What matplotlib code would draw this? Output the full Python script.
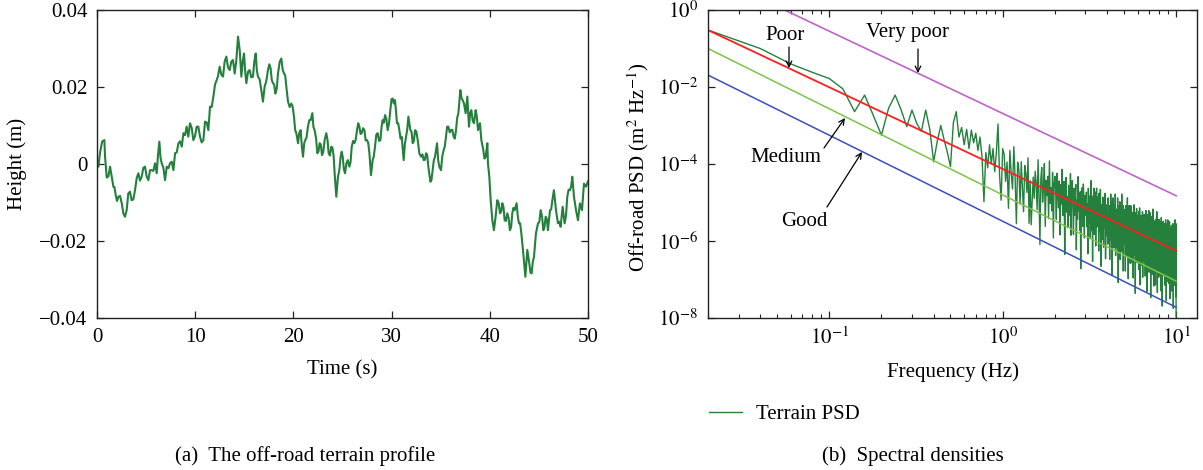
import numpy as np
import matplotlib
matplotlib.use("Agg")
import matplotlib.pyplot as plt
from matplotlib.ticker import FixedLocator, NullFormatter, LogLocator

# ---------------- data: (a) terrain profile ----------------
time_s = [
    0.0, 0.14, 0.31, 0.53, 0.75, 0.82, 0.99, 1.16, 1.33, 1.50,
    1.67, 1.78, 1.90, 2.04, 2.18, 2.35, 2.52, 2.68, 2.85, 3.02,
    3.19, 3.36, 3.53, 3.70, 3.87, 4.04, 4.21, 4.38, 4.55, 4.72,
    4.89, 5.06, 5.23, 5.40, 5.57, 5.74, 5.91, 6.08, 6.22, 6.35,
    6.47, 6.59, 6.76, 6.93, 7.10, 7.27, 7.44, 7.61, 7.78, 7.95,
    8.12, 8.29, 8.46, 8.63, 8.80, 8.97, 9.13, 9.30, 9.47, 9.64,
    9.81, 9.98, 10.15, 10.32, 10.49, 10.66, 10.83, 11.00, 11.17, 11.34,
    11.51, 11.68, 11.85, 12.02, 12.19,
    12.32, 12.49, 12.66, 12.83, 13.00, 13.17, 13.34, 13.51, 13.68, 13.85,
    14.02, 14.19, 14.36, 14.53, 14.70, 14.84, 14.97, 15.09, 15.21, 15.38,
    15.54, 15.71, 15.88, 16.02, 16.16, 16.28, 16.39, 16.56, 16.73, 16.90,
    17.07, 17.24, 17.41, 17.55, 17.68, 17.80, 17.92, 18.04, 18.16, 18.30,
    18.43, 18.60, 18.77, 18.90, 19.04, 19.16, 19.28, 19.45, 19.62, 19.79,
    19.92, 20.06, 20.18, 20.30, 20.47, 20.60, 20.74, 20.86, 20.98, 21.10,
    21.21, 21.34, 21.48, 21.62, 21.76, 21.93, 22.04, 22.16, 22.30, 22.44,
    22.56, 22.67, 22.79, 22.91, 23.04, 23.18, 23.35, 23.47, 23.59, 23.72,
    23.86, 23.98, 24.10, 24.20, 24.37, 24.54, 24.68, 24.81, 24.92,
    25.02, 25.14, 25.26, 25.40, 25.53, 25.70, 25.82, 25.94, 26.08, 26.21,
    26.34, 26.48, 26.60, 26.72, 26.84, 26.95, 27.09, 27.23, 27.36, 27.50,
    27.62, 27.74, 27.90, 28.07, 28.19, 28.31, 28.44, 28.58, 28.72, 28.86,
    28.98, 29.09, 29.21, 29.33, 29.46, 29.60, 29.74, 29.87, 29.99, 30.11,
    30.23, 30.35, 30.55, 30.67, 30.79, 30.91, 31.03, 31.23, 31.35, 31.47,
    31.59, 31.71, 31.91, 32.03, 32.15, 32.27, 32.39, 32.52, 32.66, 32.83,
    33.00, 33.14, 33.27, 33.39, 33.51, 33.62, 33.74, 33.95, 34.06, 34.18,
    34.30, 34.42, 34.63, 34.74, 34.86, 35.03, 35.16, 35.30, 35.42, 35.54,
    35.66, 35.78, 35.92, 36.05, 36.18, 36.32, 36.44, 36.56, 36.68, 36.80,
    37.00, 37.12, 37.24,
    37.37, 37.54, 37.71, 37.88, 38.00, 38.12, 38.26, 38.39, 38.56, 38.68,
    38.80, 39.00, 39.14, 39.34, 39.46, 39.58, 39.75, 39.81, 39.95, 40.09,
    40.26, 40.42, 40.59, 40.76, 40.90, 41.04, 41.16, 41.27, 41.39, 41.51,
    41.64, 41.78, 41.92, 42.05, 42.17, 42.29, 42.41, 42.53, 42.73, 42.85,
    42.97, 43.09, 43.21, 43.41, 43.62, 43.82, 44.02, 44.14, 44.26, 44.38,
    44.50, 44.70, 44.91, 45.04, 45.18, 45.32, 45.45, 45.57, 45.69, 45.80,
    45.92, 46.13, 46.25, 46.37, 46.53, 46.74, 46.94, 47.08, 47.21, 47.42,
    47.62, 47.76, 47.89, 48.02, 48.16, 48.28, 48.40, 48.57, 48.78, 48.98,
    49.18, 49.39, 49.59, 49.79, 50.0,
]
height_mm = [
    0.2, -0.7, 3.0, 5.9, 6.2, 1.9, -3.5, -3.2, -0.7, -3.3,
    -5.9, -6.0, -8.0, -9.6, -8.5, -8.3, -10.2, -12.8, -13.7, -12.0,
    -7.6, -7.2, -9.4, -9.2, -6.8, -3.7, -2.4, -4.3, -3.3, -1.0,
    -0.7, -3.3, -4.2, -1.6, -1.6, -1.8, 0.2, -2.4, 2.6, 5.8,
    1.6, 0.2, -1.0, -4.2, -0.7, -1.1, 0.2, 0.6, -1.6, 2.8,
    3.0, 5.4, 5.9, 4.5, 8.0, 7.5, 9.7, 7.1, 10.6, 9.4,
    6.2, 7.2, 9.7, 9.7, 7.1, 5.6, 6.2, 11.0, 10.8, 8.8,
    14.9, 14.8, 17.5, 20.7, 21.8,
    22.8, 25.3, 23.2, 22.7, 26.6, 27.9, 25.1, 24.4, 26.6, 27.0,
    23.5, 26.9, 33.1, 29.6, 22.7, 26.7, 28.7, 24.0, 21.0, 24.0,
    24.4, 22.5, 22.7, 26.6, 28.7, 24.3, 22.7, 22.0, 19.2, 16.2,
    20.1, 21.5, 24.4, 25.9, 24.8, 21.8, 21.0, 20.6, 18.3, 19.5,
    23.5, 26.5, 27.4, 24.6, 23.5, 23.1, 20.1, 16.2, 14.8, 15.7,
    14.9, 12.3, 8.8, 8.0, 5.4, 8.1, 8.8, 4.5, 1.9, 5.4,
    6.2, 6.9, 9.7, 11.4, 11.4, 13.2, 9.6, 8.8, 6.8, 2.8,
    3.3, 5.4, 5.1, 2.3, 3.1, 6.2, 8.0, 6.3, 2.8, 2.2,
    4.5, 4.2, 1.9, -2.4, -8.5, -3.3, -1.5, 1.9, 3.2,
    1.9, -1.4, -2.4, 0.2, 1.0, -0.7, 0.5, 4.5, 6.0, 5.4,
    6.3, 8.8, 10.6, 9.7, 7.8, 8.0, 9.3, 8.8, 6.1, 6.2,
    5.5, 2.8, -2.9, 1.0, 2.0, 4.5, 7.6, 8.0, 6.0, 6.2,
    9.7, 11.4, 10.7, 12.7, 11.8, 8.8, 10.6, 14.0, 16.8, 17.0,
    15.7, 16.6, 10.6, 10.6, 8.8, 6.6, 7.1, 1.0, 5.1, 7.1,
    8.9, 12.3, 8.8, 8.4, 5.4, 6.0, 8.8, 8.4, 6.2, 2.7,
    1.9, 2.5, 1.0, 1.1, 2.8, 2.4, -0.7, -4.6, -4.2, -1.6,
    1.0, 1.9, 5.4, 1.0, -0.7, -1.6, 2.0, 3.6, 4.6, 7.1,
    9.7, 9.7, 8.2, 8.8, 8.9, 7.1, 6.6, 8.8, 12.0, 13.2,
    19.2, 17.1, 16.6,
    15.7, 13.2, 17.5, 9.7, 13.2, 14.0, 11.2, 10.6, 14.0, 12.3,
    8.8, 10.6, 6.2, 3.6, 1.4, 1.9, 5.4, 0.2, -3.3, -9.4,
    -14.6, -17.2, -13.7, -9.4, -10.1, -12.8, -12.3, -10.2, -11.1, -14.6,
    -14.8, -12.8, -14.1, -17.2, -16.4, -12.8, -11.4, -12.0, -10.2, -13.6,
    -15.4, -15.4, -18.0, -23.2, -29.3, -22.3, -25.8, -28.2, -28.4, -25.4,
    -24.1, -18.0, -15.4, -15.1, -12.0, -13.6, -17.2, -16.3, -13.7, -14.2,
    -17.2, -12.0, -11.8, -9.4, -6.8, -12.0, -15.4, -15.0, -16.3, -11.1,
    -15.4, -13.4, -8.5, -6.7, -6.8, -5.9, -3.3, -8.5, -12.0, -14.6,
    -10.2, -12.0, -5.1, -5.9, -4.5,
]

# ---------------- data: (b) spectral densities ----------------
freq_step = 0.02          # Hz, frequency resolution of the terrain PSD
terrain_psd_log10 = [
    # 0.02 - 1.00 Hz
    -0.52, -1.00, -1.40, -1.62, -1.78, -2.05, -2.64, -2.21, -2.75, -3.25,
    -2.55, -2.21, -2.60, -3.03, -2.60, -2.95, -3.15, -2.60, -3.10, -3.94,
    -3.40, -3.00, -3.38, -3.70, -4.07, -2.92, -2.64, -3.30, -3.05, -3.50,
    -3.10, -3.60, -3.12, -3.45, -3.20, -3.65, -3.30, -3.81, -4.98, -3.70,
    -4.10, -3.50, -4.00, -3.60, -4.20, -3.70, -2.96, -4.30, -4.94, -3.60,
    # 1.02 - 1.50
    -3.75, -4.45, -3.95, -5.15, -3.65, -4.25, -4.65, -3.55, -4.35, -5.55, -3.95, -4.15,
    -5.04, -3.94, -4.64, -5.24, -4.04, -4.24, -4.74, -3.84, -5.54, -4.44, -5.58, -4.94, -4.34,
    # 1.52 - 2.00
    -4.89, -4.19, -4.49, -5.19, -3.89, -4.79, -6.09, -4.39, -4.09, -4.99, -4.59, -3.99,
    -5.62, -4.42, -4.82, -4.32, -5.42, -3.92, -5.02, -4.62, -5.22, -4.22, -5.92, -4.52, -4.32,
    # 2.02 - 2.50
    -4.64, -5.44, -4.24, -4.74, -5.14, -4.44, -5.84, -4.54, -5.04, -4.14, -5.34, -4.94,
    -4.45, -6.35, -4.75, -4.35, -5.25, -4.85, -5.65, -4.55, -4.95, -5.35, -4.25, -5.85, -4.65,
    # 2.52 - 3.00
    -4.43, -5.03, -5.83, -4.63, -5.33, -4.83, -4.53, -6.23, -4.93, -5.43, -4.33, -5.23,
    -4.82, -5.72, -4.72, -6.72, -4.92, -4.62, -5.22, -5.62, -4.52, -4.92, -5.92, -4.82, -5.32,
    # 3.02 - 3.50
    -5.33, -4.73, -5.63, -5.03, -6.33, -4.63, -5.13, -5.53, -4.83, -5.93, -4.93, -4.43, -5.73,
    -5.23, -6.53, -4.83, -5.43, -4.63, -5.83, -5.03, -4.73, -6.13, -5.13, -4.63, -5.63,
    # 3.52 - 4.00
    -4.86, -5.56, -5.06, -6.26, -4.76, -5.36, -5.76, -4.66, -5.46, -6.66, -5.06, -5.26, -5.96,
    -4.86, -5.56, -6.16, -4.96, -5.16, -5.66, -4.76, -6.46, -5.36, -5.06, -5.86, -5.26,
    # 4.02 - 4.50
    -5.28, -6.08, -4.88, -5.38, -5.78, -5.08, -6.48, -5.18, -5.68, -4.78, -5.98, -5.58, -4.98,
    -6.88, -5.28, -4.88, -5.78, -5.38, -6.18, -5.08, -5.48, -5.88, -4.78, -6.38, -5.18,
    # 4.52 - 5.00
    -5.88, -5.18, -5.48, -6.18, -4.88, -5.78, -7.08, -5.38, -5.08, -5.98, -5.58, -4.98, -6.48,
    -5.28, -5.68, -5.18, -6.28, -4.78, -5.88, -5.48, -6.08, -5.08, -6.78, -5.38, -5.18,
    # 5.02 - 5.50
    -5.78, -5.18, -6.08, -5.48, -6.78, -5.08, -5.58, -5.98, -5.28, -6.38, -5.38, -4.88, -6.18,
    -5.68, -6.98, -5.28, -5.88, -5.08, -6.28, -5.48, -5.18, -6.58, -5.58, -5.08, -6.08,
    # 5.52 - 6.00
    -5.16, -5.76, -6.56, -5.36, -6.06, -5.56, -5.26, -6.96, -5.66, -6.16, -5.06, -5.96, -5.46,
    -6.36, -5.36, -7.36, -5.56, -5.26, -5.86, -6.26, -5.16, -5.56, -6.56, -5.46, -5.96,
    # 6.02 - 6.50
    -5.34, -6.04, -5.54, -6.74, -5.24, -5.84, -6.24, -5.14, -5.94, -7.14, -5.54, -5.74, -6.44,
    -5.34, -6.04, -6.64, -5.44, -5.64, -6.14, -5.24, -6.94, -5.84, -5.54, -6.34, -5.74,
    # 6.52 - 7.00
    -5.71, -6.51, -5.31, -5.81, -6.21, -5.51, -6.91, -5.61, -6.11, -5.21, -6.41, -6.01, -5.41,
    -7.31, -5.71, -5.31, -6.21, -5.81, -6.61, -5.51, -5.91, -6.31, -5.21, -6.81, -5.61,
    # 7.02 - 7.50
    -6.27, -5.57, -5.87, -6.57, -5.27, -6.17, -7.47, -5.77, -5.47, -6.37, -5.97, -5.37, -6.87,
    -5.67, -6.07, -5.57, -6.67, -5.17, -6.27, -5.87, -6.47, -5.47, -7.17, -5.77, -5.57,
    # 7.52 - 8.00
    -6.14, -5.54, -6.44, -5.84, -7.14, -5.44, -5.94, -6.34, -5.64, -6.74, -5.74, -5.24, -6.54,
    -6.04, -7.34, -5.64, -6.24, -5.44, -6.64, -5.84, -5.54, -6.94, -5.94, -5.44, -6.44,
    # 8.02 - 8.50
    -5.49, -6.09, -6.89, -5.69, -6.39, -5.89, -5.59, -7.29, -5.99, -6.49, -5.39, -6.29, -5.79,
    -6.69, -5.69, -7.69, -5.89, -5.59, -6.19, -6.59, -5.49, -5.89, -6.89, -5.79, -6.29,
    # 8.52 - 9.00
    -5.95, -6.75, -5.55, -6.05, -6.45, -5.75, -7.15, -5.85, -6.35, -5.45, -6.65, -6.25, -5.65,
    -7.55, -5.95, -5.55, -6.45, -6.05, -6.85, -5.75, -6.15, -6.55, -5.45, -7.05, -5.85,
    # 9.02 - 9.50
    -5.70, -6.40, -5.90, -7.10, -5.60, -6.20, -6.60, -5.50, -6.30, -7.50, -5.90, -6.10, -6.80,
    -5.70, -6.40, -7.00, -5.80, -6.00, -6.50, -5.60, -7.30, -6.20, -5.90, -6.70, -6.10,
    # 9.52 - 10.00
    -6.55, -5.85, -6.15, -6.85, -5.55, -6.45, -7.75, -6.05, -5.75, -6.65, -6.25, -5.65, -7.15,
    -5.95, -6.35, -5.85, -6.95, -5.45, -6.55, -6.15, -6.75, -5.75, -7.45, -5.55, -7.97,
]
class_freq = [0.02, 10.0]
class_very_poor = [8.8, 1.5e-5]
class_poor = [0.30, 5.6e-7]
class_medium = [0.10, 9.1e-8]
class_good = [0.0204, 1.9e-8]

# ---------------- style ----------------
plt.rcParams['font.family'] = ['Liberation Serif', 'DejaVu Serif']
plt.rcParams['mathtext.fontset'] = 'stix'
FS = 15
C_TERRAIN = '#25803e'
C_POOR = '#ff1e1e'
C_MEDIUM = '#7cc444'
C_GOOD = '#3a50b8'
C_VPOOR = '#c063c8'
W, H = 1203, 470


def P(x, y):
    return (x / W, 1 - y / H)


fig = plt.figure(figsize=(W / 100, H / 100), dpi=100)
ax1 = fig.add_axes([97 / W, 1 - 318 / H, 491 / W, 308 / H])
ax2 = fig.add_axes([708 / W, 1 - 318 / H, 489 / W, 308 / H])

for ax in (ax1, ax2):
    for s in ax.spines.values():
        s.set_linewidth(1.0)
        s.set_color('#222222')
    ax.tick_params(which='both', direction='in', top=True, right=True,
                   labelsize=FS, colors='#222222', labelcolor='black')
    ax.tick_params(which='major', length=5, width=0.9, pad=7)
    ax.tick_params(which='minor', length=3, width=0.8)

# ---- (a)
t = np.array(time_s)
h = np.array(height_mm) / 1000.0
ax1.plot(t, h, color=C_TERRAIN, lw=1.5)
ax1.set_xlim(0, 50)
ax1.set_ylim(-0.04, 0.04)
ax1.xaxis.set_major_locator(FixedLocator([0, 10, 20, 30, 40, 50]))
ax1.set_xticklabels(['0', '10', '20', '30', '40', '50'])
ax1.yaxis.set_major_locator(FixedLocator([-0.04, -0.02, 0, 0.02, 0.04]))
ax1.set_yticklabels(['\u22120.04', '\u22120.02', '0', '0.02', '0.04'])
ax1.set_xlabel('Time (s)', fontsize=FS, va='center')
ax1.xaxis.set_label_coords(0.5, -0.169)
ax1.set_ylabel('Height (m)', fontsize=FS, va='center')
ax1.yaxis.set_label_coords(-0.163, 0.5)

# ---- (b)
f = np.arange(1, len(terrain_psd_log10) + 1) * freq_step
psd = 10.0 ** np.array(terrain_psd_log10)
terrain_line, = ax2.plot(f, psd, color=C_TERRAIN, lw=1.0, label='Terrain PSD')
ax2.plot(class_freq, class_very_poor, color=C_VPOOR, lw=1.2)
ax2.plot(class_freq, class_good, color=C_GOOD, lw=1.1)
ax2.plot(class_freq, class_medium, color=C_MEDIUM, lw=1.1)
ax2.plot(class_freq, class_poor, color=C_POOR, lw=1.3)
ax2.set_xscale('log')
ax2.set_yscale('log')
ax2.set_xlim(0.02, 13.2)
ax2.set_ylim(1e-8, 1e0)
ax2.xaxis.set_major_locator(FixedLocator([0.1, 1, 10]))
ax2.set_xticklabels([r'$10^{-1}$', r'$10^{0}$', r'$10^{1}$'])
ax2.xaxis.set_minor_locator(LogLocator(base=10, subs=np.arange(2, 10)))
ax2.xaxis.set_minor_formatter(NullFormatter())
ax2.yaxis.set_major_locator(FixedLocator([1e-8, 1e-6, 1e-4, 1e-2, 1e0]))
ax2.set_yticklabels([r'$10^{-8}$', r'$10^{-6}$', r'$10^{-4}$', r'$10^{-2}$', r'$10^{0}$'])
ax2.yaxis.set_minor_locator(FixedLocator([]))
ax2.set_xlabel('Frequency (Hz)', fontsize=FS, va='center')
ax2.xaxis.set_label_coords(0.501, -0.175)
ax2.set_ylabel(r'Off-road PSD (m$^{2}$ Hz$^{-1}$)', fontsize=FS, va='center')
ax2.yaxis.set_label_coords(-0.143, 0.49)

arrow = dict(arrowstyle='->', color='black', lw=0.9, shrinkA=0, shrinkB=0)
ann = [
    ('Poor', (785, 35), (789, 47), (789, 68)),
    ('Very poor', (908, 33), (918, 49), (918, 73)),
    ('Medium', (786, 158), (824, 148), (845, 118)),
    ('Good', (804, 222), (827, 207), (862, 152)),
]
for label, tpos, tail, tip in ann:
    fig.text(*P(*tpos), label, fontsize=FS, ha='center', va='center')
    ax2.annotate('', xy=P(*tip), xycoords='figure fraction',
                 xytext=P(*tail), textcoords='figure fraction', arrowprops=arrow)

fig.legend(handles=[terrain_line], labels=['Terrain PSD'], loc='center left',
           bbox_to_anchor=P(709, 414), bbox_transform=fig.transFigure,
           frameon=False, fontsize=FS, handlelength=1.6, handletextpad=0.65,
           borderpad=0, borderaxespad=0)

fig.text(*P(305, 456), '(a)  The off-road terrain profile', fontsize=FS, ha='center', va='center')
fig.text(*P(913, 456), '(b)  Spectral densities', fontsize=FS, ha='center', va='center')

fig.savefig('out.png', dpi=100)
